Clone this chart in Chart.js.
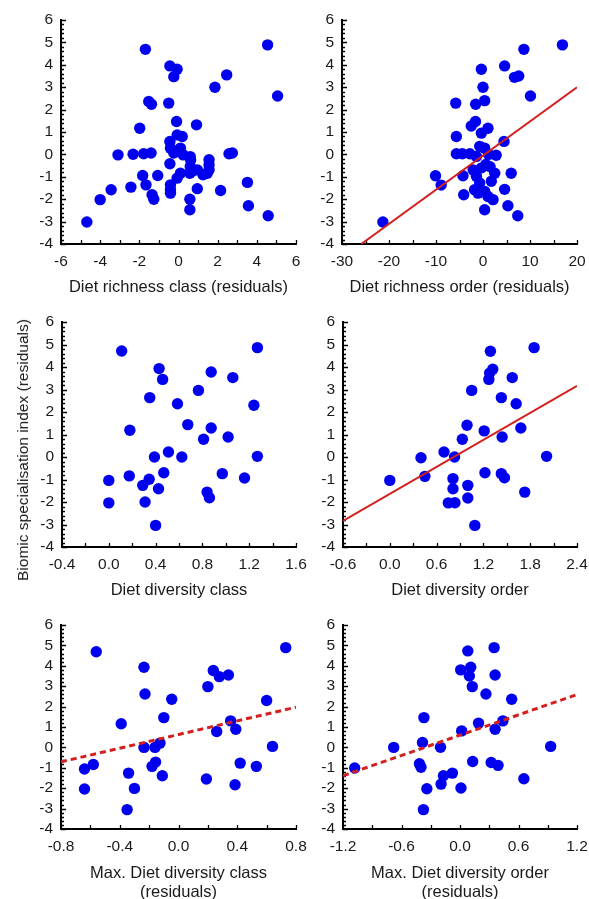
<!DOCTYPE html>
<html>
<head>
<meta charset="utf-8">
<script src="https://cdn.jsdelivr.net/npm/chart.js@4.4.1/dist/chart.umd.min.js"></script>
<style>
  html, body { margin: 0; padding: 0; background: #ffffff; }
  #wrap { position: relative; width: 589px; height: 899px; overflow: hidden; background: #ffffff; }
  #wrap canvas { position: absolute; left: 0; top: 0; }
  #ytitle {
    position: absolute; left: 23px; top: 450px;
    transform: translate(-50%, -50%) rotate(-90deg);
    white-space: nowrap; font-family: 'Liberation Sans', Arial, sans-serif;
    font-size: 15.5px; line-height: 16px; color: #1a1a1a;
  }
</style>
</head>
<body>
<div id="wrap">
  <canvas id="c1" width="589" height="899"></canvas>
  <canvas id="c2" width="589" height="899"></canvas>
  <canvas id="c3" width="589" height="899"></canvas>
  <canvas id="c4" width="589" height="899"></canvas>
  <canvas id="c5" width="589" height="899"></canvas>
  <canvas id="c6" width="589" height="899"></canvas>
  <div id="ytitle">Biomic specialisation index (residuals)</div>
</div>
<script>
// ---------------- DATA ----------------
const yTickValues = [-4, -3, -2, -1, 0, 1, 2, 3, 4, 5, 6];

// Panel 1: Diet richness class (residuals)
const richClassTicks = [-6, -4, -2, 0, 2, 4, 6];
const richClassX = [-4.68, -4.0, -3.44, -2.43, -3.09, -2.32, -1.78, -1.40, -1.98, -1.83, -1.66, -1.35, -1.26, -1.06, -1.52, -1.38, -1.69, -0.50, -0.44, -0.07, -0.24, -0.10, -0.44, -0.07, 0.19, -0.41, -0.44, -0.24, 0.10, 0.24, -0.07, 0.10, -0.41, -0.41, -0.41, 0.60, 0.62, 0.60, 0.68, 0.58, 0.58, 0.58, 0.92, 0.96, 0.96, 1.25, 1.56, 1.56, 1.56, 1.47, 1.86, 2.15, 2.46, 2.58, 2.75, 3.52, 3.57, 4.58, 4.55, 5.06];
const richClassY = [-3.02, -2.02, -1.58, -1.46, -0.02, 0.01, 0.03, 0.06, 1.17, -0.94, -1.36, -1.80, -2.00, -0.94, 2.36, 2.24, 4.69, 2.29, 3.95, 3.80, 3.47, 1.47, 0.58, 0.87, 0.80, 0.28, -0.42, 0.06, 0.28, -0.02, -1.06, -0.84, -1.36, -1.58, -1.73, -0.10, -0.25, -0.54, -0.76, -0.84, -2.00, -2.47, 1.32, -0.69, -1.53, -0.91, -0.24, -0.46, -0.69, -0.84, 3.00, -1.61, 3.55, 0.03, 0.06, -1.25, -2.29, -2.74, 4.89, 2.61];

// Panel 2: Diet richness order (residuals)
const richOrderTicks = [-30, -20, -10, 0, 10, 20];
const richOrderX = [-21.3, -10.1, -8.9, -5.67, -4.4, -5.67, -5.8, -4.26, -4.1, -2.5, -1.6, -1.56, 0.35, -0.35, 0.0, -0.35, 1.06, -2.8, -1.4, -0.7, 0.35, 1.2, -2.1, -1.4, -0.7, -1.8, -1.06, 0.35, 1.06, 2.13, 1.77, 2.5, 2.8, 0.6, 1.5, -0.3, 0.35, 4.47, 4.6, 4.6, 6.0, 5.3, 6.7, 7.6, 7.4, 8.7, 10.1, 16.9];
const richOrderY = [-3.02, -0.95, -1.37, 0.03, 0.03, 0.80, 2.29, -0.95, -1.80, 1.27, 1.47, 2.24, 2.40, 3.80, 3.00, 0.95, 1.17, 0.03, -0.09, 0.36, 0.28, 0.00, -0.69, -0.98, -1.28, -1.58, -1.73, -1.65, -1.88, -2.02, -1.20, -0.84, -0.04, -0.45, -0.55, -0.60, -2.47, 0.58, 3.95, -1.56, -0.84, -2.29, 3.44, 3.50, -2.74, 4.69, 2.61, 4.89];
const richOrderFitX = [-25.9, 20];
const richOrderFitY = [-4.0, 3.0];

// Panel 3: Diet diversity class
const divClassTicks = [-0.4, 0.0, 0.4, 0.8, 1.2, 1.6];
const divClassX = [0.11, 0.0, 0.0, 0.18, 0.175, 0.29, 0.345, 0.31, 0.35, 0.43, 0.46, 0.39, 0.425, 0.40, 0.47, 0.51, 0.587, 0.624, 0.675, 0.766, 0.81, 0.84, 0.86, 0.875, 0.875, 0.97, 1.02, 1.06, 1.16, 1.24, 1.27, 1.27];
const divClassY = [4.71, -1.04, -2.04, 1.19, -0.84, -1.26, -0.99, -2.00, 2.64, 3.93, 3.45, 0.00, -1.41, -3.04, -0.70, 0.22, 2.37, 0.00, 1.44, 2.96, 0.79, -1.56, -1.81, 3.78, 1.29, -0.74, 0.89, 3.53, -0.93, 2.30, 4.86, 0.03];

// Panel 4: Diet diversity order
const divOrderTicks = [-0.6, 0.0, 0.6, 1.2, 1.8, 2.4];
const divOrderX = [0.0, 0.40, 0.45, 0.695, 0.83, 0.81, 0.81, 0.75, 0.835, 0.93, 0.99, 1.0, 1.0, 1.05, 1.09, 1.21, 1.22, 1.29, 1.28, 1.32, 1.27, 1.43, 1.44, 1.43, 1.47, 1.57, 1.62, 1.68, 1.73, 1.85, 2.01];
const divOrderY = [-1.04, -0.03, -0.86, 0.22, 0.00, -0.96, -1.41, -2.04, -2.03, 0.79, 1.41, -1.26, -1.82, 2.96, -3.04, 1.16, -0.70, 4.70, 3.73, 3.90, 3.45, 2.64, 0.89, -0.74, -0.92, 3.53, 2.37, 1.29, -1.56, 4.86, 0.03];
const divOrderFitX = [-0.6, 2.4];
const divOrderFitY = [-2.84, 3.16];

// Panel 5: Max. Diet diversity class (residuals)
const maxClassTicks = [-0.8, -0.4, 0.0, 0.4, 0.8];
const maxClassX = [-0.56, -0.64, -0.58, -0.64, -0.39, -0.34, -0.35, -0.30, -0.235, -0.228, -0.235, -0.16, -0.126, -0.18, -0.156, -0.11, -0.10, -0.046, 0.19, 0.20, 0.237, 0.26, 0.278, 0.34, 0.355, 0.39, 0.385, 0.42, 0.53, 0.60, 0.64, 0.73];
const maxClassY = [4.69, -1.06, -0.84, -2.04, 1.16, -1.26, -3.05, -2.01, 3.93, 2.62, 0.00, 0.00, 0.21, -0.93, -0.72, -1.39, 1.46, 2.36, -1.55, 2.98, 3.77, 0.78, 3.47, 3.55, 1.30, 0.89, -1.83, -0.77, -0.93, 2.30, 0.05, 4.89];
const maxClassFitX = [-0.8, 0.8];
const maxClassFitY = [-0.71, 1.97];

// Panel 6: Max. Diet diversity order (residuals)
const maxOrderTicks = [-1.2, -0.6, 0.0, 0.6, 1.2];
const maxOrderX = [-1.08, -0.68, -0.416, -0.40, -0.385, -0.37, -0.375, -0.34, -0.20, -0.194, -0.17, -0.078, 0.01, 0.017, 0.007, 0.08, 0.11, 0.096, 0.126, 0.13, 0.19, 0.266, 0.32, 0.39, 0.35, 0.36, 0.36, 0.44, 0.53, 0.655, 0.93];
const maxOrderY = [-1.01, 0.00, -0.80, -0.97, 0.24, 1.46, -3.05, -2.03, 0.01, -1.80, -1.39, -1.26, -1.99, 0.81, 3.80, 4.73, 3.93, 3.50, 2.98, -0.69, 1.19, 2.62, -0.74, -0.88, 4.89, 3.55, 0.89, 1.30, 2.36, -1.54, 0.05];
const maxOrderFitX = [-1.2, 1.2];
const maxOrderFitY = [-1.39, 2.59];

// ---------------- STYLE / LAYOUT ----------------
const FONT = "'Liberation Sans', Arial, Helvetica, sans-serif";
const TEXT = '#1a1a1a';
const DOT = '#0000ee';
const RED = '#d41f1f';
const W = 589, H = 899;

const panels = [
  { id: 'c1', area: [61, 20, 296, 244], xs: richClassX, ys: richClassY, ticks: richClassTicks, minor: 1, dec: 0,
    title: 'Diet richness class (residuals)', axisH: 55, titlePad: 2.1 },
  { id: 'c2', area: [342, 20, 577, 244], xs: richOrderX, ys: richOrderY, ticks: richOrderTicks, minor: 5, dec: 0,
    title: 'Diet richness order (residuals)', axisH: 55, titlePad: 2.1,
    fitX: richOrderFitX, fitY: richOrderFitY, dash: [] },
  { id: 'c3', area: [62, 322, 296, 547], xs: divClassX, ys: divClassY, ticks: divClassTicks, minor: 0.2, dec: 1,
    title: 'Diet diversity class', axisH: 55, titlePad: 2.1 },
  { id: 'c4', area: [343, 322, 577, 547], xs: divOrderX, ys: divOrderY, ticks: divOrderTicks, minor: 0.3, dec: 1,
    title: 'Diet diversity order', axisH: 55, titlePad: 2.1,
    fitX: divOrderFitX, fitY: divOrderFitY, dash: [] },
  { id: 'c5', area: [61, 625, 296, 829], xs: maxClassX, ys: maxClassY, ticks: maxClassTicks, minor: 0.2, dec: 1,
    title: ['Max. Diet diversity class', '(residuals)'], axisH: 70, titlePad: -3.7,
    fitX: maxClassFitX, fitY: maxClassFitY, dash: [6, 4] },
  { id: 'c6', area: [343, 625, 577, 829], xs: maxOrderX, ys: maxOrderY, ticks: maxOrderTicks, minor: 0.3, dec: 1,
    title: ['Max. Diet diversity order', '(residuals)'], axisH: 70, titlePad: -3.7,
    fitX: maxOrderFitX, fitY: maxOrderFitY, dash: [6, 4] }
];

const Y_AXIS_W = 40;

const innerTicks = {
  id: 'innerTicks',
  beforeDatasetsDraw(chart, args, opts) {
    const { ctx, chartArea: a, scales: { x, y } } = chart;
    ctx.save();
    ctx.strokeStyle = '#000';
    ctx.lineWidth = 1.3;
    ctx.beginPath();
    const nX = Math.round((x.max - x.min) / opts.minor);
    for (let i = 0; i <= nX; i++) {
      const px = Math.round(x.getPixelForValue(x.min + i * opts.minor)) + 0.5;
      ctx.moveTo(px, a.bottom);
      ctx.lineTo(px, a.bottom - 4);
    }
    const nY = Math.round((y.max - y.min) / 0.2);
    for (let i = 0; i <= nY; i++) {
      const py = Math.round(y.getPixelForValue(y.min + i * 0.2)) + 0.5;
      const major = i % 5 === 0;
      ctx.moveTo(a.left, py);
      ctx.lineTo(a.left + (major ? 5 : 3), py);
    }
    ctx.stroke();
    ctx.restore();
  }
};

panels.forEach(p => {
  const [L, T, R, B] = p.area;
  const datasets = [];
  if (p.fitX) {
    datasets.push({
      type: 'line',
      data: p.fitX.map((v, i) => ({ x: v, y: p.fitY[i] })),
      borderColor: RED,
      borderWidth: p.dash.length ? 3 : 2,
      borderDash: p.dash,
      pointRadius: 0,
      fill: false,
      tension: 0
    });
  }
  datasets.push({
    type: 'scatter',
    data: p.xs.map((v, i) => ({ x: v, y: p.ys[i] })),
    backgroundColor: DOT,
    borderWidth: 0,
    pointRadius: 5.7,
    pointHoverRadius: 5.7
  });

  new Chart(document.getElementById(p.id), {
    type: 'scatter',
    data: { datasets },
    plugins: [innerTicks],
    options: {
      responsive: false,
      animation: false,
      events: [],
      layout: { padding: { left: L - Y_AXIS_W, top: T, right: W - R, bottom: H - B - p.axisH } },
      plugins: { legend: { display: false }, tooltip: { enabled: false }, innerTicks: { minor: p.minor } },
      scales: {
        x: {
          type: 'linear',
          min: p.ticks[0],
          max: p.ticks[p.ticks.length - 1],
          afterBuildTicks: s => { s.ticks = p.ticks.map(v => ({ value: v })); },
          afterFit: s => { s.height = p.axisH; s.paddingLeft = 0; s.paddingRight = 0; },
          grid: { display: false, drawTicks: false },
          border: { display: true, color: '#000', width: 2 },
          ticks: {
            padding: 8, color: TEXT, autoSkip: false, maxRotation: 0,
            font: { family: FONT, size: 15.5 },
            callback: v => Number(v).toFixed(p.dec)
          },
          title: {
            display: true, text: p.title, color: TEXT,
            font: { family: FONT, size: 16.5, lineHeight: 1.2 },
            padding: { top: 0, bottom: p.titlePad }
          }
        },
        y: {
          type: 'linear',
          min: yTickValues[0],
          max: yTickValues[yTickValues.length - 1],
          afterBuildTicks: s => { s.ticks = yTickValues.map(v => ({ value: v })); },
          afterFit: s => { s.width = Y_AXIS_W; s.paddingTop = 0; s.paddingBottom = 0; },
          grid: { display: false, drawTicks: false },
          border: { display: true, color: '#000', width: 2 },
          ticks: {
            padding: 8, color: TEXT, autoSkip: false,
            font: { family: FONT, size: 15.5 },
            callback: v => String(v)
          }
        }
      }
    }
  });
});
</script>
</body>
</html>
